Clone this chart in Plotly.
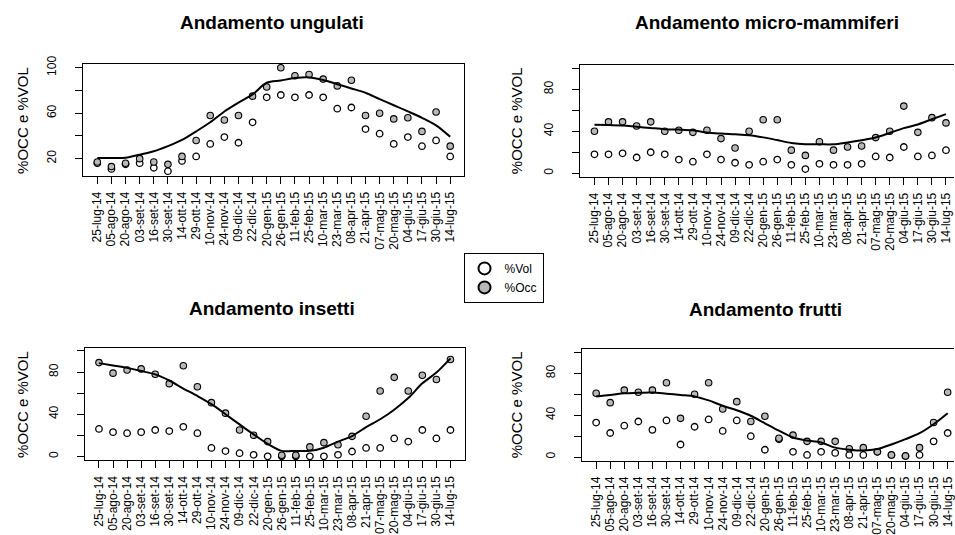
import plotly.graph_objects as go

# ---------------- data ----------------
dates = ["25-lug-14", "05-ago-14", "20-ago-14", "03-set-14", "16-set-14", "30-set-14",
         "14-ott-14", "29-ott-14", "10-nov-14", "24-nov-14", "09-dic-14", "22-dic-14",
         "20-gen-15", "26-gen-15", "11-feb-15", "25-feb-15", "10-mar-15", "23-mar-15",
         "08-apr-15", "21-apr-15", "07-mag-15", "20-mag-15", "04-giu-15", "17-giu-15",
         "30-giu-15", "14-lug-15"]

ungulati_occ = [17, 13, 16, 20, 17, 15, 22, 36, 58, 54, 58, 75, 83, 100, 93, 94, 90, 84, 89,
                58, 60, 55, 56, 44, 61, 31]
ungulati_vol = [16, 11, 15, 16, 12, 9, 18, 22, 33, 39, 34, 52, 74, 76, 74, 76, 74, 64, 65,
                46, 42, 33, 39, 31, 36, 22]
ungulati_fit = [20.6, 20.6, 20.8, 23.5, 26.5, 31, 36.5, 44, 52, 61.5, 69.3, 76.5, 86.8, 88.8,
                90.9, 91.5, 89.2, 85.5, 81.8, 78, 72.4, 67, 61.6, 55.9, 49.3, 39.2]

micro_occ = [40, 49, 49, 45, 49, 40, 41, 39, 41, 33, 24, 40, 51, 51, 22, 17, 30, 22, 25, 26,
             34, 40, 64, 39, 53, 48]
micro_vol = [18, 18, 19, 15, 20, 18, 13, 11, 18, 13, 10, 8, 11, 13, 8, 4, 9, 8, 8, 9,
             16, 15, 25, 16, 17, 22]
micro_fit = [46.2, 45.9, 45.6, 44.3, 43.1, 42, 41.6, 40.9, 38.8, 37.8, 37.1, 36.2, 34.2, 31.6,
             28.9, 27.6, 27.6, 27.6, 29.4, 31.5, 34, 38.4, 43, 46.5, 51.5, 56.4]

insetti_occ = [89, 79, 82, 83, 78, 69, 86, 66, 51, 41, 25, 20, 14, 1, 1, 9, 13, 11, 19, 38,
               62, 75, 62, 77, 73, 92]
insetti_vol = [26, 23, 22, 23, 25, 24, 28, 22, 8, 5, 3, 1.5, 0, 0, 0, 0, 0, 1.5, 4.6, 8,
               8, 17, 14, 25, 17, 25]
insetti_fit = [88.5, 86.3, 84, 81, 77.8, 72, 64.4, 57.3, 49.5, 40, 30.3, 20.8, 11.9, 5.2, 5.2,
               5.2, 8.2, 14, 19.3, 27.7, 35.2, 44.3, 55.3, 69.3, 79.5, 93]

frutti_occ = [61, 52, 64, 62, 64, 71, 37, 60, 71, 46, 53, 34, 39, 18, 21, 15, 15, 15, 8, 9,
              5, 2, 1, 9, 33, 62]
frutti_vol = [33, 23, 30, 34, 26, 35, 12, 29, 36, 25, 35, 20, 7, 17, 5, 2, 5, 4, 2, 2,
              5, 2, 1, 2, 15, 23]
frutti_fit = [58, 59.3, 61, 61.4, 61.7, 60.6, 59.4, 58, 54.2, 49, 44.8, 39.5, 32.3, 25.2, 18.7,
              15.8, 14, 9, 7, 6.2, 7.7, 12, 17.1, 22.8, 31.4, 41.9]

titles = ["Andamento ungulati", "Andamento micro-mammiferi", "Andamento insetti", "Andamento frutti"]
y_title = "%OCC e %VOL"
legend_names = ["%Vol", "%Occ"]

# ---------------- layout geometry ----------------
W, H = 955, 535
FONT = "Liberation Sans, Arial, Helvetica, sans-serif"


def px_x(v):
    return v / W


def px_y(v):
    return 1 - v / H


panels = [
    dict(occ=ungulati_occ, vol=ungulati_vol, fit=ungulati_fit,
         xdom=[px_x(83.3), px_x(464.8)], ydom=[px_y(172), px_y(57.5)],
         xr=[-1, 26], yr=[4.9, 103.2],
         tv=[20, 40, 60, 80, 100], tt=["20", "", "60", "", "100"],
         right=False, title_x=272, title_y=15, ytitle_x=23),
    dict(occ=micro_occ, vol=micro_vol, fit=micro_fit,
         xdom=[px_x(581), 1.0], ydom=[px_y(173), px_y(58)],
         xr=[-1, 25.57], yr=[-3.4, 103.6],
         tv=[0, 20, 40, 60, 80, 100], tt=["0", "", "40", "", "80", ""],
         right=True, title_x=768, title_y=15, ytitle_x=517),
    dict(occ=insetti_occ, vol=insetti_vol, fit=insetti_fit,
         xdom=[px_x(85), px_x(465)], ydom=[px_y(463.3), px_y(348.3)],
         xr=[-1, 26], yr=[-3.5, 103],
         tv=[0, 20, 40, 60, 80, 100], tt=["0", "", "40", "", "80", ""],
         right=False, title_x=272, title_y=308, ytitle_x=23),
    dict(occ=frutti_occ, vol=frutti_vol, fit=frutti_fit,
         xdom=[px_x(582.7), 1.0], ydom=[px_y(464), px_y(349.3)],
         xr=[-1, 25.45], yr=[-3.5, 103.5],
         tv=[0, 20, 40, 60, 80, 100], tt=["0", "", "40", "", "80", ""],
         right=True, title_x=766, title_y=309, ytitle_x=517),
]

fig = go.Figure()
annotations = []
layout_axes = {}

for k, p in enumerate(panels, start=1):
    xa = "x" if k == 1 else f"x{k}"
    ya = "y" if k == 1 else f"y{k}"
    fig.add_trace(go.Scatter(
        x=dates, y=p["vol"], mode="markers", name=legend_names[0],
        legendgroup="vol", showlegend=(k == 1), xaxis=xa, yaxis=ya,
        marker=dict(symbol="circle-open", size=6.5, color="black", line=dict(width=1.3))))
    fig.add_trace(go.Scatter(
        x=dates, y=p["occ"], mode="markers", name=legend_names[1],
        legendgroup="occ", showlegend=(k == 1), xaxis=xa, yaxis=ya,
        marker=dict(symbol="circle", size=6.5, color="#b8b8b8",
                    line=dict(color="black", width=1.1))))
    fig.add_trace(go.Scatter(
        x=dates, y=p["fit"], mode="lines", showlegend=False, hoverinfo="skip",
        xaxis=xa, yaxis=ya,
        line=dict(color="black", width=2, shape="spline", smoothing=0.9)))

    xkey = "xaxis" if k == 1 else f"xaxis{k}"
    ykey = "yaxis" if k == 1 else f"yaxis{k}"
    layout_axes[xkey] = dict(
        domain=p["xdom"], anchor=ya, type="category", range=p["xr"],
        tickmode="array", tickvals=dates, ticktext=dates, tickangle=-90,
        ticks="outside", ticklen=7, tickwidth=1, tickcolor="black",
        showline=True, linecolor="black", linewidth=1.3, mirror=True,
        showgrid=False, zeroline=False, ticklabelstandoff=3,
        tickfont=dict(family=FONT, size=12, color="black"))
    layout_axes[ykey] = dict(
        domain=p["ydom"], anchor=xa, range=p["yr"],
        tickmode="array", tickvals=p["tv"], ticktext=p["tt"], tickangle=-90,
        ticks="outside", ticklen=7, tickwidth=1, tickcolor="black",
        showline=True, linecolor="black", linewidth=1.3,
        mirror=(not p["right"]),
        showgrid=False, zeroline=False, ticklabelstandoff=14,
        tickfont=dict(family=FONT, size=12, color="black"))

    annotations.append(dict(
        text="<b>" + titles[k - 1] + "</b>", xref="paper", yref="paper",
        x=px_x(p["title_x"]), y=px_y(p["title_y"]), xanchor="center", yanchor="middle",
        showarrow=False, font=dict(family=FONT, size=19, color="black")))
    mid_y = (p["ydom"][0] + p["ydom"][1]) / 2
    annotations.append(dict(
        text=y_title, xref="paper", yref="paper", x=px_x(p["ytitle_x"]), y=mid_y,
        xanchor="center", yanchor="middle", textangle=-90, showarrow=False,
        font=dict(family=FONT, size=15, color="black")))

fig.update_layout(
    width=W, height=H, autosize=False,
    margin=dict(l=0, r=0, t=0, b=0),
    paper_bgcolor="white", plot_bgcolor="white",
    font=dict(family=FONT, color="black"),
    annotations=annotations,
    showlegend=True,
    legend=dict(x=px_x(464), y=px_y(251), xanchor="left", yanchor="top",
                bordercolor="black", borderwidth=1, bgcolor="white",
                itemsizing="constant", font=dict(family=FONT, size=12, color="black"),
                tracegroupgap=0),
    **layout_axes,
)

# pin the figure to the page's top-left corner (no default body margin)
pin = ("document.body.style.margin='0px';"
       "var d=document.getElementById('{plot_id}');"
       "d.style.position='absolute';d.style.left='0px';d.style.top='0px';")
fig.write_html("out.html", post_script=pin, config={"displayModeBar": False})
